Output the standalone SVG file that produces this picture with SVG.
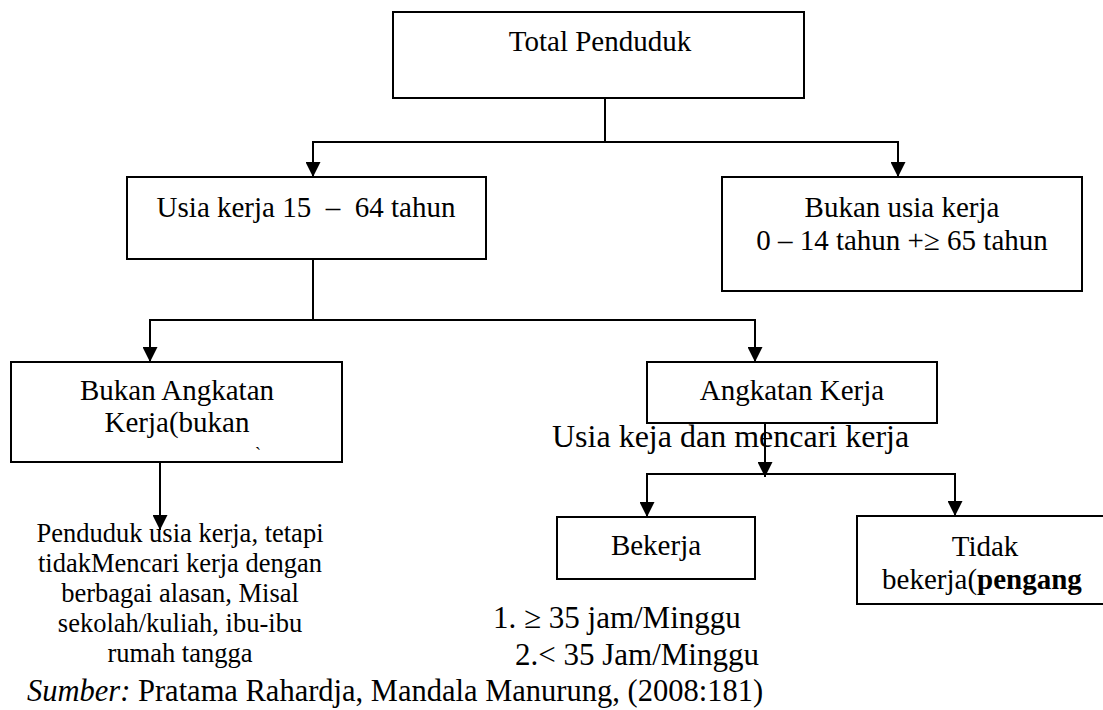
<svg xmlns="http://www.w3.org/2000/svg" width="1103" height="710" viewBox="0 0 1103 710">
<style>
text{font-family:"Liberation Serif","Times New Roman",serif;fill:#000}
.box{fill:#fff;stroke:#000;stroke-width:2}
.b{font-size:29px;text-anchor:middle}
.c{fill:none;stroke:#000;stroke-width:2}
.note{font-size:26.5px;text-anchor:middle}
</style>
<defs>
<marker id="ah" viewBox="0 0 10 10" refX="10" refY="5" markerWidth="15" markerHeight="15" markerUnits="userSpaceOnUse" orient="auto">
<path d="M0,0 L10,5 L0,10 z" fill="#000"/>
</marker>
</defs>
<rect width="1103" height="710" fill="#fff"/>
<g id="connectors">
<path class="c" d="M605,98 V142"/>
<path class="c" d="M312,142 H899"/>
<path class="c" d="M313,142 V177" marker-end="url(#ah)"/>
<path class="c" d="M898,142 V177" marker-end="url(#ah)"/>
<path class="c" d="M313,259 V320"/>
<path class="c" d="M149,320 H756"/>
<path class="c" d="M150,320 V362" marker-end="url(#ah)"/>
<path class="c" d="M755,320 V362" marker-end="url(#ah)"/>
<path class="c" d="M160,462 V530" marker-end="url(#ah)"/>
<path class="c" d="M765,423 V477" marker-end="url(#ah)"/>
<path class="c" d="M646,474 H956"/>
<path class="c" d="M647,474 V517" marker-end="url(#ah)"/>
<path class="c" d="M955,474 V516" marker-end="url(#ah)"/>
</g>
<g id="total">
<rect class="box" x="393" y="12" width="411" height="86"/>
<text class="b" x="600" y="51">Total Penduduk</text>
</g>
<g id="usia-kerja">
<rect class="box" x="127" y="177" width="359" height="82"/>
<text class="b" x="306" y="217" xml:space="preserve">Usia kerja 15  –  64 tahun</text>
</g>
<g id="bukan-usia-kerja">
<rect class="box" x="722" y="177" width="360" height="114"/>
<text class="b" x="902" y="217">Bukan usia kerja</text>
<text class="b" x="902" y="250">0 – 14 tahun +≥ 65 tahun</text>
</g>
<g id="bukan-angkatan">
<rect class="box" x="11" y="362" width="331" height="100"/>
<text class="b" x="177" y="400">Bukan Angkatan</text>
<text class="b" x="177" y="432">Kerja(bukan</text>
<text x="255" y="460" style="font-size:18px">`</text>
</g>
<g id="bukan-angkatan-note">
<text class="note" x="180" y="542">Penduduk usia kerja, tetapi</text>
<text class="note" x="180" y="572">tidakMencari kerja dengan</text>
<text class="note" x="180" y="602">berbagai alasan, Misal</text>
<text class="note" x="180" y="632">sekolah/kuliah, ibu-ibu</text>
<text class="note" x="180" y="662">rumah tangga</text>
</g>
<g id="angkatan">
<rect class="box" x="647" y="362" width="290" height="61"/>
<text class="b" x="792" y="400">Angkatan Kerja</text>
<text x="552" y="447" style="font-size:32px">Usia keja dan mencari kerja</text>
</g>
<g id="bekerja">
<rect class="box" x="557" y="517" width="198" height="62"/>
<text class="b" x="656" y="555">Bekerja</text>
<text x="493" y="628" style="font-size:31px">1. ≥ 35 jam/Minggu</text>
<text x="515" y="665" style="font-size:31px">2.&lt; 35 Jam/Minggu</text>
</g>
<g id="tidak-bekerja">
<rect class="box" x="857" y="516" width="260" height="88"/>
<text class="b" x="985" y="556">Tidak</text>
<text class="b" x="982" y="589">bekerja(<tspan font-weight="bold">pengang</tspan></text>
</g>
<g id="sumber">
<text x="27" y="701" style="font-size:30.5px"><tspan font-style="italic">Sumber:</tspan> Pratama Rahardja, Mandala Manurung, (2008:181)</text>
</g>
</svg>
